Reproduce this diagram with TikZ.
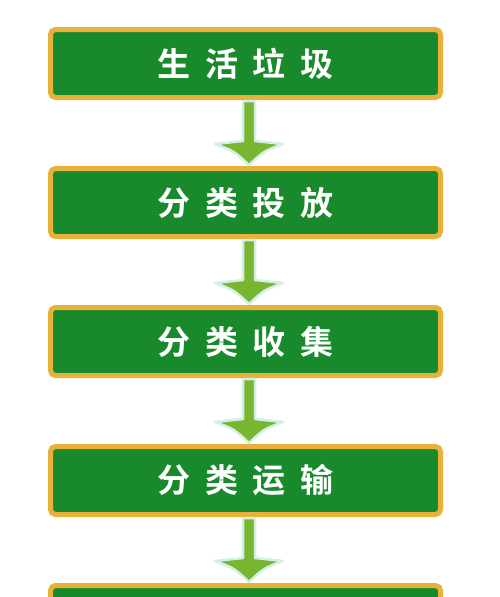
\documentclass[tikz,border=0pt]{standalone}
\usepackage{fontspec}
\newfontfamily\cjk{Noto Sans CJK SC}[BoldFont={Noto Sans CJK SC Bold}]
\usetikzlibrary{calc}
\definecolor{boxgreen}{HTML}{188A2B}
\definecolor{boxorange}{HTML}{E8B23A}
\definecolor{arrowgreen}{HTML}{78B631}
\definecolor{arrowedge}{HTML}{D4EFE3}
\newcommand{\gapch}{\hspace{14.5pt}}
\tikzset{
  stepbox/.style={draw=boxorange, line width=5pt, fill=boxgreen, rounded corners=5pt,
    minimum width=390pt, minimum height=68pt, inner sep=0pt,
    text=white, font=\cjk\bfseries\fontsize{33pt}{33pt}\selectfont},
  flowarrow/.style={draw=arrowedge, line width=2.5pt, fill=arrowgreen, line join=round}
}
\newcommand{\flowarrow}[2]{%
  \draw[flowarrow] ($(#1.south)+(-2.5,1)$) -- ($(#2.north)+(-2.5,-25)$) -- ($(#2.north)+(-30.5,-22)$)
    .. controls ($(#2.north)+(-11.5,-15)$) .. ($(#2.north)+(3.5,-1)$)
    .. controls ($(#2.north)+(18.5,-15)$) .. ($(#2.north)+(37.5,-22)$)
    -- ($(#2.north)+(9.5,-25)$) -- ($(#1.south)+(9.5,1)$) -- cycle;}
\begin{document}
\begin{tikzpicture}[x=1pt,y=-1pt]
\useasboundingbox (0,0) rectangle (500,597);
\clip (0,0) rectangle (500,597);
\fill[white] (0,0) rectangle (500,597);
\node[stepbox] (b1) at (245.5,63.5) {生\gapch 活\gapch 垃\gapch 圾};
\node[stepbox] (b2) at (245.5,202.5) {分\gapch 类\gapch 投\gapch 放};
\node[stepbox] (b3) at (245.5,341.5) {分\gapch 类\gapch 收\gapch 集};
\node[stepbox] (b4) at (245.5,480.5) {分\gapch 类\gapch 运\gapch 输};
\node[stepbox] (b5) at (245.5,619.5) {};
\flowarrow{b1}{b2}
\flowarrow{b2}{b3}
\flowarrow{b3}{b4}
\flowarrow{b4}{b5}
\end{tikzpicture}
\end{document}
